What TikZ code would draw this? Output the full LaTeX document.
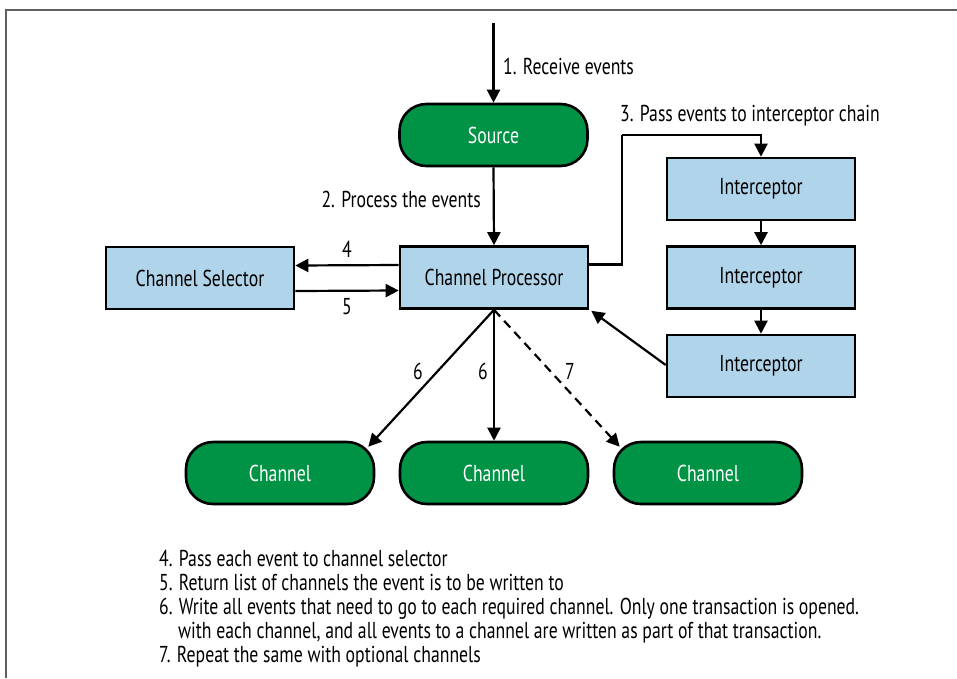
\documentclass[tikz,border=0pt]{standalone}
\usepackage{fontspec}
\setmainfont{PT Sans}[FakeStretch=0.77]
\usetikzlibrary{arrows.meta}
\definecolor{flgreen}{RGB}{0,146,69}
\definecolor{flblue}{RGB}{176,212,234}
\definecolor{framegray}{RGB}{95,95,95}
\tikzset{
  box/.style={draw=black, line width=2.6pt, fill=flblue, minimum width=188pt, minimum height=62pt, inner sep=0pt, font=\fontsize{23}{24}\selectfont},
  pill/.style={draw=black, line width=2.6pt, fill=flgreen, rounded corners=27pt, minimum width=188pt, minimum height=62pt, inner sep=0pt, text=white, font=\fontsize{23}{24}\selectfont},
  arr/.style={line width=2.2pt, -{Triangle[length=13pt,width=13pt]}},
  lbl/.style={inner sep=0pt, font=\fontsize{23}{24}\selectfont},
  note/.style={inner sep=0pt, anchor=base west, font=\fontsize{23}{24}\selectfont}
}
\begin{document}
\begin{tikzpicture}[x=1pt,y=-1pt]
\useasboundingbox (0,0) rectangle (957,678);
\draw[framegray, line width=1.3pt] (957,10) -- (6,10) -- (6,678);

\node[pill] (src) at (493.5,135) {Source};
\node[box] (cp) at (494,277.5) {Channel Processor};
\node[box] (cs) at (200,278) {Channel Selector};
\node[box] (i1) at (761,189) {Interceptor};
\node[box] (i2) at (761,277.5) {Interceptor};
\node[box] (i3) at (761,366) {Interceptor};
\node[pill] (ch1) at (280,473) {Channel};
\node[pill] (ch2) at (494,473) {Channel};
\node[pill] (ch3) at (708,473) {Channel};

\coordinate (in) at (493.5,23);
\coordinate (bend) at (622,135);

\draw[arr] (in) -- (src.north);
\draw[arr] (src.south) -- (cp.north);
\draw[arr] ([yshift=12.5pt]cp.west) -- ([yshift=12.5pt]cs.east);
\draw[arr] ([yshift=-13pt]cs.east) -- ([yshift=-13pt]cp.west);
\draw[line width=2.2pt] ([yshift=13pt]cp.east) -| (bend);
\draw[arr] (bend) -| (i1.north);
\draw[arr] (i1.south) -- (i2.north);
\draw[arr] (i2.south) -- (i3.north);
\draw[arr] ([yshift=1pt]i3.west) -- ([xshift=2pt,yshift=-1pt]cp.south east);
\draw[arr] (cp.south) -- ([xshift=-7pt,yshift=-6pt]ch1.north east);
\draw[arr] (cp.south) -- (ch2.north);
\draw[arr, dashed, dash pattern=on 9pt off 6pt] (cp.south) -- ([xshift=7pt,yshift=-6pt]ch3.north west);

\node[lbl, anchor=west] (l1) at (503,66) {1. Receive events};
\node[lbl, anchor=east] (l2) at (481,199) {2. Process the events};
\node[lbl, anchor=west] (l3) at (620,116) {3. Pass events to interceptor chain};
\node[lbl] (l4) at (347,249) {4};
\node[lbl] (l5) at (347,307) {5};
\node[lbl] (l6a) at (418,371) {6};
\node[lbl] (l6b) at (483,371) {6};
\node[lbl] (l7) at (570,371) {7};

\node[note] (n4) at (159,566.5) {4. Pass each event to channel selector};
\node[note] (n5) at (159,590.5) {5. Return list of channels the event is to be written to};
\node[note] (n6) at (159,614.5) {6. Write all events that need to go to each required channel. Only one transaction is opened.};
\node[note] (n6b) at (178,638.5) {with each channel, and all events to a channel are written as part of that transaction.};
\node[note] (n7) at (159,662.5) {7. Repeat the same with optional channels};
\end{tikzpicture}
\end{document}
